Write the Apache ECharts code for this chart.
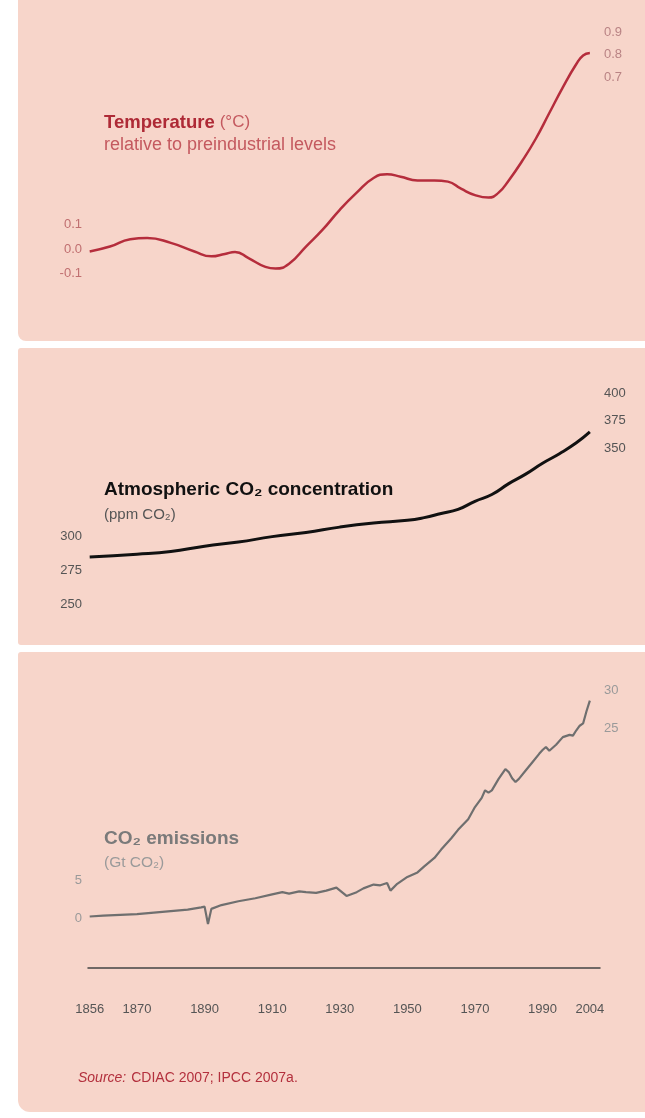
<!DOCTYPE html>
<html>
<head>
<meta charset="utf-8">
<script src="https://cdn.jsdelivr.net/npm/echarts@6/dist/echarts.min.js"></script>
<style>
  html, body { margin: 0; padding: 0; background: #fff; }
  #chart { width: 645px; height: 1118px; }
</style>
</head>
<body>
<div id="chart"></div>
<script>
// temperature anomaly, smoothed (deg C relative to preindustrial)
var tempYears = [1856, 1862, 1868, 1873, 1880, 1887, 1892, 1896, 1899, 1903, 1908, 1911, 1915, 1920, 1925, 1930, 1935, 1940, 1944, 1948, 1953, 1958, 1962, 1966, 1970, 1974, 1977, 1980, 1984, 1988, 1992, 1996, 2000, 2002, 2004];
var tempValues = [-0.01, 0.01, 0.04, 0.045, 0.025, -0.01, -0.03, -0.02, -0.012, -0.037, -0.073, -0.08, -0.06, 0.01, 0.08, 0.16, 0.23, 0.29, 0.305, 0.295, 0.28, 0.28, 0.275, 0.245, 0.22, 0.21, 0.23, 0.28, 0.36, 0.45, 0.555, 0.66, 0.755, 0.79, 0.8];

// atmospheric CO2 (ppm)
var co2Years = [1856, 1870, 1880, 1890, 1900, 1910, 1920, 1930, 1940, 1950, 1955, 1960, 1965, 1970, 1975, 1980, 1985, 1990, 1995, 2000, 2004];
var co2Values = [285, 287, 289, 293, 296, 300, 303, 307, 310, 312, 314, 317, 320, 326, 331, 339, 346, 354, 361, 369, 377];

// CO2 emissions (Gt CO2)
var emisYears = [1856, 1860, 1865, 1870, 1875, 1880, 1885, 1889, 1890, 1891, 1892, 1895, 1900, 1905, 1910, 1913, 1915, 1918, 1920, 1923, 1926, 1929, 1932, 1935, 1937, 1940, 1942, 1944, 1945, 1947, 1950, 1953, 1955, 1958, 1960, 1963, 1965, 1968, 1970, 1972, 1973, 1974, 1975, 1977, 1979, 1980, 1981, 1982, 1983, 1985, 1987, 1989, 1990, 1991, 1992, 1994, 1996, 1998, 1999, 2000, 2001, 2002, 2003, 2004];
var emisValues = [0.2, 0.3, 0.4, 0.5, 0.7, 0.9, 1.1, 1.4, 1.5, -0.8, 1.2, 1.7, 2.2, 2.6, 3.1, 3.4, 3.2, 3.5, 3.4, 3.3, 3.6, 4.0, 2.9, 3.4, 3.9, 4.4, 4.3, 4.6, 3.6, 4.5, 5.4, 6.0, 6.8, 7.9, 9.0, 10.5, 11.6, 13.0, 14.6, 15.8, 16.8, 16.5, 16.8, 18.3, 19.6, 19.2, 18.4, 17.9, 18.3, 19.4, 20.5, 21.6, 22.1, 22.5, 22.0, 22.8, 23.8, 24.1, 24.0, 24.7, 25.3, 25.6, 27.2, 28.6];

var yearTicks = [1856, 1870, 1890, 1910, 1930, 1950, 1970, 1990, 2004];
var tempTicksLeft = [-0.1, 0, 0.1];
var tempTicksRight = [0.7, 0.8, 0.9];
var co2TicksLeft = [250, 275, 300];
var co2TicksRight = [350, 375, 400];
var emisTicksLeft = [0, 5];
var emisTicksRight = [25, 30];

function pairs(xs, ys) {
  return xs.map(function(x, i) { return [x, ys[i]]; });
}

var sans = '"Liberation Sans", Arial, sans-serif';
var pink = '#f7d5ca';

function yAx(grid, pos, min, max, ticks, color, digits) {
  return {
    type: 'value', gridIndex: grid, position: pos, min: min, max: max,
    splitLine: { show: false }, axisLine: { show: false }, axisTick: { show: false },
    axisLabel: {
      customValues: ticks, color: color, fontSize: 13, fontFamily: sans,
      margin: pos === 'left' ? 6 : 4,
      formatter: function(v) { return digits ? v.toFixed(digits) : String(Math.round(v)); }
    }
  };
}

function xAx(grid, visible) {
  return {
    type: 'value', gridIndex: grid, min: 1855.5, max: 2007, show: visible,
    splitLine: { show: false }, axisTick: { show: false },
    axisLine: { show: visible, onZero: false, lineStyle: { color: '#444', width: 1.5 } },
    axisLabel: {
      customValues: yearTicks, color: '#555', fontSize: 13, fontFamily: sans, margin: 36,
      formatter: function(v) { return String(v); }
    }
  };
}

var chart = echarts.init(document.getElementById('chart'));
chart.setOption({
  animation: false,
  graphic: [
    { type: 'rect', z: -10, shape: { x: 18, y: -10, width: 700, height: 351, r: 8 }, style: { fill: pink } },
    { type: 'rect', z: -10, shape: { x: 18, y: 348, width: 700, height: 297, r: 3 }, style: { fill: pink } },
    { type: 'rect', z: -10, shape: { x: 18, y: 652, width: 700, height: 460, r: [3, 0, 0, 12] }, style: { fill: pink } }
  ],
  title: [
    {
      left: 104, top: 111, padding: 0,
      text: '{b|Temperature} {n|(°C)}\n{s|relative to preindustrial levels}',
      textStyle: {
        rich: {
          b: { fontFamily: sans, fontWeight: 'bold', fontSize: 18.5, color: '#ae2a36', lineHeight: 23 },
          n: { fontFamily: sans, fontWeight: 'normal', fontSize: 17, color: '#c4595f', lineHeight: 23 },
          s: { fontFamily: sans, fontWeight: 'normal', fontSize: 18, color: '#c4595f', lineHeight: 23 }
        }
      }
    },
    {
      left: 104, top: 477, padding: 0,
      text: '{b|Atmospheric CO₂ concentration}\n{n|(ppm CO₂)}',
      textStyle: {
        rich: {
          b: { fontFamily: sans, fontWeight: 'bold', fontSize: 19, color: '#111', lineHeight: 25 },
          n: { fontFamily: sans, fontWeight: 'normal', fontSize: 15, color: '#555', lineHeight: 25 }
        }
      }
    },
    {
      left: 104, top: 827, padding: 0,
      text: '{b|CO₂ emissions}\n{n|(Gt CO₂)}',
      textStyle: {
        rich: {
          b: { fontFamily: sans, fontWeight: 'bold', fontSize: 19, color: '#7a7a7a', lineHeight: 24 },
          n: { fontFamily: sans, fontWeight: 'normal', fontSize: 15.5, color: '#9a9a9a', lineHeight: 24 }
        }
      }
    },
    {
      left: 78, top: 1069, padding: 0,
      text: '{i|Source:} {n|CDIAC 2007; IPCC 2007a.}',
      textStyle: {
        rich: {
          i: { fontFamily: sans, fontStyle: 'italic', fontWeight: 'normal', fontSize: 14, color: '#b3303d', lineHeight: 16 },
          n: { fontFamily: sans, fontWeight: 'normal', fontSize: 14, color: '#b3303d', lineHeight: 16 }
        }
      }
    }
  ],
  grid: [
    { left: 88, right: 45, top: 28.5, height: 269.5 },
    { left: 88, right: 45, top: 373.5, height: 244.7 },
    { left: 88, right: 45, top: 678.6, height: 288.8 }
  ],
  xAxis: [xAx(0, false), xAx(1, false), xAx(2, true)],
  yAxis: [
    yAx(0, 'left', -0.2, 0.9, tempTicksLeft, '#c06f70', 1),
    yAx(0, 'right', -0.282, 0.9156, tempTicksRight, '#b98384', 1),
    yAx(1, 'left', 240, 420, co2TicksLeft, '#555', 0),
    yAx(1, 'right', 195.3, 417.7, co2TicksRight, '#555', 0),
    yAx(2, 'left', -6.5, 31.5, emisTicksLeft, '#9a9a9a', 0),
    yAx(2, 'right', -6.5, 31.5, emisTicksRight, '#9a9a9a', 0)
  ],
  series: [
    {
      type: 'line', xAxisIndex: 0, yAxisIndex: 0, smooth: 0.5, symbol: 'none',
      lineStyle: { color: '#b52d3c', width: 2.5 },
      data: pairs(tempYears, tempValues)
    },
    {
      type: 'line', xAxisIndex: 1, yAxisIndex: 2, smooth: 0.5, symbol: 'none',
      lineStyle: { color: '#111', width: 3 },
      data: pairs(co2Years, co2Values)
    },
    {
      type: 'line', xAxisIndex: 2, yAxisIndex: 4, symbol: 'none',
      lineStyle: { color: '#6f6f6f', width: 2.2 },
      data: pairs(emisYears, emisValues)
    }
  ]
});
</script>
</body>
</html>
